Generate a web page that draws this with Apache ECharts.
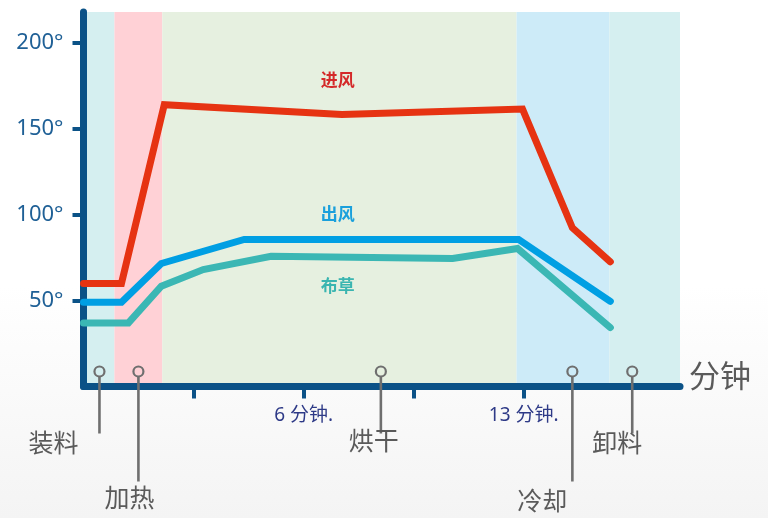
<!DOCTYPE html>
<html><head><meta charset="utf-8">
<script src="https://cdn.jsdelivr.net/npm/echarts@6/dist/echarts.min.js"></script>
<style>html,body{margin:0;padding:0;background:#fff}#c{width:768px;height:518px}</style>
</head><body><div id="c"></div>
<script>
// ---- data ----
const xMax = 5.42;
const stageNames = ['装料', '加热', '烘干', '冷却', '卸料'];
const stageX = [0.145, 0.499, 2.702, 4.442, 4.986];
const bandEdges = [0, 0.281, 0.716, 3.935, 4.778, 5.42];
const inletX = [0, 0.345, 0.734, 2.348, 3.989, 4.442, 4.787];
const inletT = [60, 60, 164, 158.3, 161.5, 92.4, 72.6];
const outletX = [0, 0.345, 0.707, 1.46, 3.953, 4.787];
const outletT = [49, 49, 71.6, 85.6, 85.6, 49.6];
const clothX = [0, 0.408, 0.707, 1.088, 1.704, 3.354, 3.944, 4.787];
const clothT = [37, 37, 58.4, 68.1, 75.8, 74.5, 80.3, 34.3];
const seriesNames = ['进风', '出风', '布草'];
const xTickValues = [1, 2, 3, 4];
const xLabelValues = [2, 4];
const xLabelText = {2: '6 分钟.', 4: '13 分钟.'};
const yTickValues = [50, 100, 150, 200];
const xUnitName = '分钟';

// ---- styles / layout ----
const bandColors = ['#d5eff0', '#ffd1d6', '#e6f0e0', '#cdebf8', '#d5eff0'];
const lineColors = ['#e63312', '#009fe3', '#3bb7b4'];
const nameColors = ['#d42a2a', '#1aa0dc', '#3ab5b0'];
const namePos = [[2.31, 178], [2.31, 99.5], [2.31, 57.6]];
const pinLen = [47, 95, 47, 95, 47];
const pinText = [[-46, 58], [-9, 113], [-7, 56], [-30, 116], [-15, 58]];
const axisColor = '#0b5287';
const FONT = 'Noto Sans, Noto Sans CJK SC, sans-serif';

const zip = (xs, ys) => xs.map((x, i) => [x, ys[i]]);
const seriesData = [zip(inletX, inletT), zip(outletX, outletT), zip(clothX, clothT)];

const chart = echarts.init(document.getElementById('c'), null, {renderer: 'canvas'});
const bandAreas = bandColors.map((c, i) => [
  {xAxis: bandEdges[i], itemStyle: {color: c}},
  {xAxis: bandEdges[i + 1]}
]);

const lineSeries = seriesData.map((d, i) => ({
  type: 'line',
  name: seriesNames[i],
  data: d,
  symbol: 'none',
  z: 3 + (2 - i),
  lineStyle: {color: lineColors[i], width: 7, cap: 'round', join: 'miter'},
  markPoint: {
    silent: true,
    symbol: 'circle', symbolSize: 0,
    data: [{coord: namePos[i], value: seriesNames[i]}],
    label: {show: true, position: 'inside', formatter: seriesNames[i],
      color: nameColors[i], fontSize: 17, fontWeight: 'bold', fontFamily: FONT}
  },
  markArea: i === 0 ? {silent: true, data: bandAreas, z: 0} : undefined
}));

const pinSeries = {
  type: 'custom',
  clip: false,
  silent: true,
  z: 10,
  data: stageX.map((x, i) => [x, 0, i]),
  renderItem: function (params, api) {
    const i = api.value(2);
    const p = api.coord([api.value(0), 0]);
    const cy = p[1] - 15;
    return {
      type: 'group',
      children: [
        {type: 'line', shape: {x1: p[0], y1: cy + 5, x2: p[0], y2: p[1] + pinLen[i]},
          style: {stroke: '#6f6f6f', lineWidth: 2.6}},
        {type: 'circle', shape: {cx: p[0], cy: cy, r: 5},
          style: {fill: 'none', stroke: '#6f6f6f', lineWidth: 2.2}},
        {type: 'text', x: p[0] + pinText[i][0], y: p[1] + pinText[i][1],
          style: {text: stageNames[i], fill: '#5a5a5a', font: '25px ' + FONT,
            align: 'center', verticalAlign: 'middle'}}
      ]
    };
  }
};

chart.setOption({
  animation: false,
  backgroundColor: new echarts.graphic.LinearGradient(0, 0, 0, 1, [
    {offset: 0, color: '#ffffff'}, {offset: 0.55, color: '#ffffff'}, {offset: 1, color: '#f4f4f4'}
  ]),
  grid: {left: 83.5, right: 88, top: 12, bottom: 131.5, containLabel: false},
  xAxis: {
    type: 'value', min: 0, max: xMax,
    splitLine: {show: false},
    name: xUnitName, nameLocation: 'end', nameGap: 9,
    nameTextStyle: {fontSize: 31, color: '#5a5a5a', fontFamily: FONT, verticalAlign: 'bottom', lineHeight: 16},
    axisLine: {show: true, lineStyle: {color: axisColor, width: 7}},
    axisTick: {show: true, length: 12, customValues: xTickValues, lineStyle: {color: axisColor, width: 4}},
    axisLabel: {customValues: xLabelValues, formatter: v => xLabelText[v] || '',
      color: '#2e3a87', fontSize: 19, fontFamily: FONT, margin: 20}
  },
  yAxis: {
    type: 'value', min: 0, max: 218,
    splitLine: {show: false},
    axisLine: {show: true, lineStyle: {color: axisColor, width: 7}},
    axisTick: {show: true, length: 11, customValues: yTickValues, lineStyle: {color: axisColor, width: 4}},
    axisLabel: {customValues: yTickValues, formatter: v => v + '°',
      color: '#1f6096', fontSize: 22, fontFamily: FONT, margin: 20}
  },
  series: [...lineSeries, pinSeries]
});
</script></body></html>
